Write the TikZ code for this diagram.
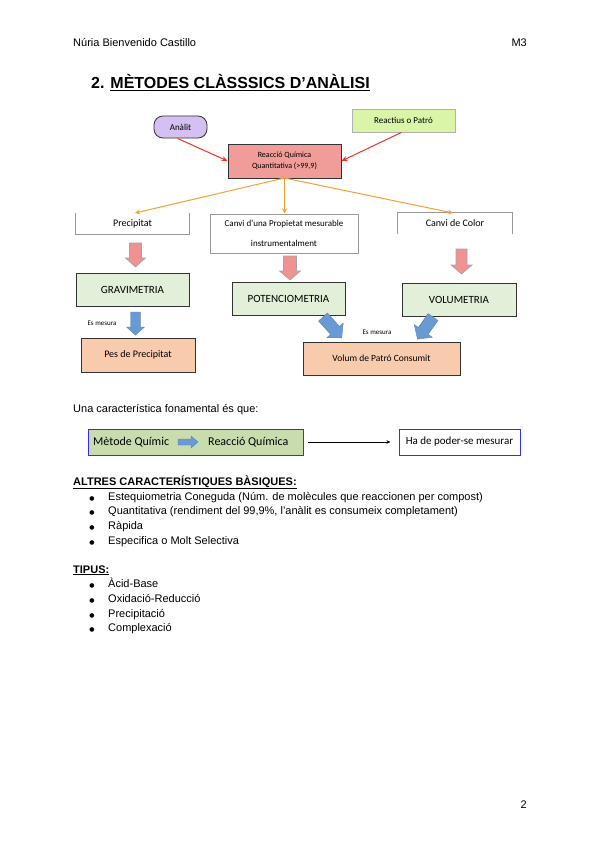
\documentclass[tikz,border=0pt]{standalone}
\usepackage{fontspec}
\setmainfont{Liberation Sans}
\newfontfamily\calfont{Carlito}
\newfontfamily\symfont{DejaVu Sans}
\usetikzlibrary{arrows.meta}
\definecolor{lav}{HTML}{D4C0F2}
\definecolor{lgreen}{HTML}{DAF5A8}
\definecolor{salmon}{HTML}{F09C98}
\definecolor{mgreen}{HTML}{E2EFD9}
\definecolor{peach}{HTML}{F8CBAD}
\definecolor{pinkarr}{HTML}{EE9391}
\definecolor{bluearr}{HTML}{6A9AD4}
\definecolor{orangearr}{HTML}{F5A035}
\definecolor{redarr}{HTML}{EE3424}
\definecolor{boxgreen}{HTML}{C8DCAE}
\definecolor{bluebord}{HTML}{3030F0}
% #1 style, #2 x, #3 y, #4 angle (clockwise, y down), #5 length, #6 head length, #7 shaft half width, #8 head half width
\newcommand\blkarrow[8]{%
  \draw[#1,shift={(#2,#3)},rotate=-#4] (0,-#7) -- ({#5-#6},-#7) -- ({#5-#6},-#8) -- (#5,0) -- ({#5-#6},#8) -- ({#5-#6},#7) -- (0,#7) -- cycle;}
\begin{document}
\begin{tikzpicture}[x=1pt,y=-1pt,
  box/.style={draw=black!80,line width=0.8pt,minimum width=#1,inner sep=0pt,font=\calfont\fontsize{11}{13}\selectfont,align=center},
  txt/.style={inner sep=0pt,anchor=base west,font=\fontsize{11}{13}\selectfont},
  pinkarrow/.style={draw=gray!70,fill=pinkarr,line width=0.6pt},
  bluearrow/.style={draw=bluearr!85!black,fill=bluearr,line width=0.4pt},
  redline/.style={draw=redarr,line width=1pt,-{Stealth[length=6pt,width=5pt]}},
  orline/.style={draw=orangearr,line width=1pt,-{Stealth[length=5pt,width=5pt]}},
  bul/.style={inner sep=0pt,anchor=base,font=\symfont\fontsize{6}{8}\selectfont}
]
\useasboundingbox[fill=white] (0,0) rectangle (600,848);

% header
\node[txt] (hdr) at (73,47) {Núria Bienvenido Castillo};
\node[txt,anchor=base east] (m3) at (527,47) {M3};
\node[txt,font=\bfseries\fontsize{16}{18}\selectfont] (title) at (91,89) {2. \underline{MÈTODES CLÀSSSICS D’ANÀLISI}};

% top nodes
\node[box,minimum width=53,minimum height=22,rounded corners=9,fill=lav,font=\calfont\fontsize{9}{11}\selectfont] (analit) at (180.5,127) {Anàlit};
\node[box,draw=gray!60,minimum width=103,minimum height=23,fill=lgreen,font=\calfont\fontsize{9}{11}\selectfont] (reactius) at (403.5,120.5) {Reactius o Patró};
\node[box,minimum width=113,minimum height=34,fill=salmon,font=\calfont\fontsize{8}{11}\selectfont] (reaccio) at (284.5,161) {Reacció Química\\Quantitativa (>99,9)};
\draw[redline] (analit.south) ++(-3,0) -- (reaccio.west);
\draw[redline] (reactius.south) ++(-2,0) -- (reaccio.east);

% second row
\node[minimum width=113,minimum height=21,inner sep=0pt,font=\calfont\fontsize{10}{11}\selectfont] (precip) at (132.5,223.5) {Precipitat};
\draw[gray!80,line width=0.8pt] (precip.north west) -- (precip.south west) -- (precip.south east) -- (precip.north east);
\node[box,draw=gray!80,minimum width=148,minimum height=39,font=\calfont\fontsize{9}{20}\selectfont] (canvi) at (284,233.5) {Canvi d’una Propietat mesurable\\instrumentalment};
\node[minimum width=114,minimum height=21,inner sep=0pt,font=\calfont\fontsize{10}{11}\selectfont] (color) at (455,223.5) {Canvi de Color};
\draw[gray!80,line width=0.8pt] (color.south west) -- (color.north west) -- (color.north east) -- (color.south east);

\coordinate (rb) at (284.5,178);
\draw[orline] (rb) -- (135,213);
\draw[orline] (rb) -- (284.5,213.5);
\draw[orline] (rb) -- (453,213);

% pink block arrows
\blkarrow{pinkarrow}{135.5}{243}{90}{24}{9}{6}{10}
\blkarrow{pinkarrow}{290}{256}{90}{24}{9}{6.5}{10.5}
\blkarrow{pinkarrow}{461.5}{249}{90}{25}{9}{5.5}{10.5}

% method boxes
\node[box,minimum width=113,minimum height=33,fill=mgreen] (grav) at (132.5,289.5) {GRAVIMETRIA};
\node[box,minimum width=113,minimum height=33,fill=mgreen] (pot) at (288.5,298.5) {POTENCIOMETRIA};
\node[box,minimum width=114,minimum height=33,fill=mgreen] (vol) at (459,299.5) {VOLUMETRIA};

% blue block arrows
\blkarrow{bluearrow}{135.5}{312}{90}{23}{8}{5}{9}
\blkarrow{bluearrow}{323}{317}{48}{28}{10}{6}{11}
\blkarrow{bluearrow}{433}{317}{125}{27}{10}{6}{11}
\node[inner sep=0pt,font=\calfont\fontsize{7}{8}\selectfont] (em1) at (102,323) {Es mesura};
\node[inner sep=0pt,font=\calfont\fontsize{7}{8}\selectfont] (em2) at (377,332) {Es mesura};

% result boxes
\node[box,minimum width=114,minimum height=34,fill=peach,font=\calfont\fontsize{10}{12}\selectfont] (pes) at (138,355) {Pes de Precipitat};
\node[box,minimum width=157,minimum height=33,fill=peach,font=\calfont\fontsize{9.5}{12}\selectfont] (volum) at (381.5,358.5) {Volum de Patró Consumit};

% fundamental characteristic
\node[txt] (una) at (73,412) {Una característica fonamental és que:};
\node[draw=bluebord,line width=1pt,fill=boxgreen,minimum width=215,minimum height=26,inner sep=0pt] (metode) at (195.5,442) {};
\node[inner sep=0pt,anchor=west,font=\calfont\fontsize{12}{14}\selectfont] (mq) at (93,442.5) {Mètode Químic};
\node[inner sep=0pt,anchor=west,font=\calfont\fontsize{12}{14}\selectfont] (rq) at (208,442.5) {Reacció Química};
\blkarrow{bluearrow}{178}{442}{0}{20}{7}{3}{6}
\node[draw=bluebord,line width=1pt,fill=white,minimum width=121,minimum height=26,inner sep=0pt,font=\calfont\fontsize{11}{12}\selectfont] (hade) at (459.5,442) {Ha de poder-se mesurar};
\coordinate (aS) at (308,442);
\draw[line width=0.6pt,-{Stealth[length=4pt,width=3.5pt]}] (aS) -- ([xshift=-8pt]hade.west);

% lists
\node[txt,font=\bfseries\fontsize{11}{13}\selectfont] (altres) at (73,485) {\underline{ALTRES CARACTERÍSTIQUES BÀSIQUES:}};
\foreach \y/\t [count=\i] in {500/Estequiometria Coneguda (Núm. de molècules que reaccionen per compost),514.7/{Quantitativa (rendiment del 99,9\%, l’anàlit es consumeix completament)},529.4/Ràpida,544/Especifica o Molt Selectiva}{
  \node[bul] (b\i) at (92,\y) {●};
  \node[txt] (l\i) at (108,\y) {\t};
}
\node[txt,font=\bfseries\fontsize{11}{13}\selectfont] (tipus) at (73,573) {\underline{TIPUS:}};
\foreach \y/\t [count=\i] in {587.5/Àcid-Base,602.2/Oxidació-Reducció,617/Precipitació,631.7/Complexació}{
  \node[bul] (c\i) at (92,\y) {●};
  \node[txt] (k\i) at (108,\y) {\t};
}
\node[txt,anchor=base east] (pg) at (527,808) {2};
\end{tikzpicture}
\end{document}
